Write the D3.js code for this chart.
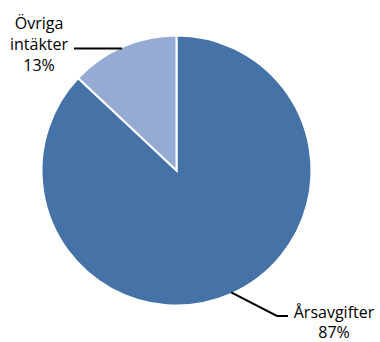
<!DOCTYPE html>
<html>
<head>
<meta charset="utf-8">
<script src="https://cdn.jsdelivr.net/npm/d3@7"></script>
<style>
  body { margin: 0; background: #fff; }
  text { font-family: "Open Sans", sans-serif; font-size: 16px; fill: #000; }
</style>
</head>
<body>
<svg id="chart" width="380" height="342"></svg>
<script>
// data
const labels = ["Årsavgifter", "Övriga intäkter"];
const values = [87, 13];
const colors = ["#4673a7", "#95abd3"];

const svg = d3.select("#chart");
const cx = 176.5, cy = 170.5, r = 135;

const pie = d3.pie().sort(null).value(d => d)(values);
const arc = d3.arc().innerRadius(0).outerRadius(r);

const g = svg.append("g").attr("transform", `translate(${cx},${cy})`);
g.selectAll("path").data(pie).join("path")
  .attr("d", arc)
  .attr("fill", (d, i) => colors[i])
  .attr("stroke", "#fff")
  .attr("stroke-width", 2);

// leader lines + labels
const lead = d3.arc().innerRadius(r * 0.99).outerRadius(r * 0.99);

// Årsavgifter
const p0 = lead.centroid({startAngle: 2.72, endAngle: 2.72});
svg.append("polyline")
  .attr("points", [[cx + p0[0], cy + p0[1]], [277, 316], [288, 316]].map(p => p.join(",")).join(" "))
  .attr("fill", "none").attr("stroke", "#000").attr("stroke-width", 2);
const t0 = svg.append("text").attr("text-anchor", "middle");
t0.append("tspan").attr("x", 334).attr("y", 318).text(labels[0]);
t0.append("tspan").attr("x", 334).attr("y", 338).text(values[0] + "%");

// Övriga intäkter
svg.append("line")
  .attr("x1", 74).attr("y1", 48.5)
  .attr("x2", 122).attr("y2", 48.5)
  .attr("stroke", "#000").attr("stroke-width", 2);
const t1 = svg.append("text").attr("text-anchor", "middle");
t1.append("tspan").attr("x", 39).attr("y", 29).text("Övriga");
t1.append("tspan").attr("x", 39).attr("y", 50).text("intäkter");
t1.append("tspan").attr("x", 39).attr("y", 71).text(values[1] + "%");
</script>
</body>
</html>
